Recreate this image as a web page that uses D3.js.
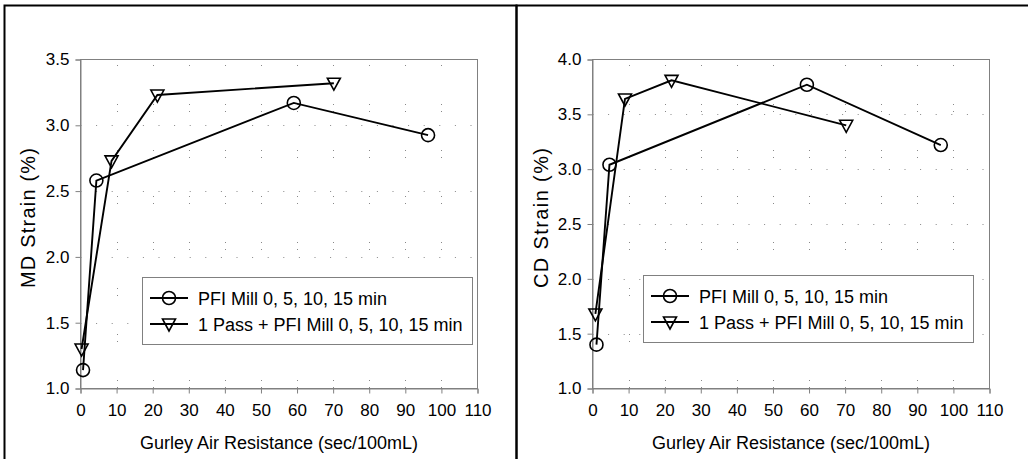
<!DOCTYPE html>
<html>
<head>
<meta charset="utf-8">
<script src="https://cdn.jsdelivr.net/npm/d3@7"></script>
<style>
  body { margin: 0; background: #fff; }
  svg { font-family: "Liberation Sans", Arial, sans-serif; }
</style>
</head>
<body>
<svg width="1028" height="459"></svg>
<script>
// --- data ---
var xTicks = [0, 10, 20, 30, 40, 50, 60, 70, 80, 90, 100, 110];
var legendLabels = ["PFI Mill 0, 5, 10, 15 min", "1 Pass + PFI Mill 0, 5, 10, 15 min"];

// MD strain
var mdPfiX = [0.7, 4.4, 59.1, 96.3];
var mdPfiY = [1.14, 2.58, 3.17, 2.925];
var mdPassX = [0.3, 8.6, 21.3, 70.2];
var mdPassY = [1.30, 2.73, 3.23, 3.32];
var mdTicks = [1.0, 1.5, 2.0, 2.5, 3.0, 3.5];

// CD strain
var cdPfiX = [1.1, 4.7, 59.4, 96.5];
var cdPfiY = [1.40, 3.04, 3.77, 3.22];
var cdPassX = [0.8, 9.0, 21.9, 70.3];
var cdPassY = [1.68, 3.64, 3.81, 3.40];
var cdTicks = [1.0, 1.5, 2.0, 2.5, 3.0, 3.5, 4.0];

var svg = d3.select("svg");

// outer frames round each chart
svg.append("rect").attr("x", 4.5).attr("y", 5.5).attr("width", 512).attr("height", 470)
  .attr("fill", "none").attr("stroke", "#000").attr("stroke-width", 2);
svg.append("rect").attr("x", 516.5).attr("y", 5.5).attr("width", 530).attr("height", 470)
  .attr("fill", "none").attr("stroke", "#000").attr("stroke-width", 2);

function zip(xs, ys) {
  return xs.map(function(x, i) { return [x, ys[i]]; });
}

function triangle(x, y) {
  return "M" + (x - 6.5) + "," + (y - 5) + "L" + (x + 6.5) + "," + (y - 5) + "L" + x + "," + (y + 7) + "Z";
}

function drawPanel(cfg) {
  var x = d3.scaleLinear().domain([0, 110]).range([cfg.left, cfg.right]);
  var y = d3.scaleLinear().domain(d3.extent(cfg.yTicks)).range([388.5, 59.5]);
  var g = svg.append("g");

  // dotted grid
  g.append("g").selectAll("line").data(cfg.yTicks.slice(1, -1)).enter().append("line")
    .attr("x1", cfg.left).attr("x2", cfg.right)
    .attr("y1", function(d) { return Math.round(y(d)) + 0.5; })
    .attr("y2", function(d) { return Math.round(y(d)) + 0.5; })
    .attr("stroke", "#888").attr("stroke-width", 1).attr("stroke-dasharray", "1,14.6");
  g.append("g").selectAll("line").data(xTicks.slice(1, -1)).enter().append("line")
    .attr("y1", 388).attr("y2", 59.5)
    .attr("x1", function(d) { return Math.round(x(d)) + 0.5; })
    .attr("x2", function(d) { return Math.round(x(d)) + 0.5; })
    .attr("stroke", "#888").attr("stroke-width", 1).attr("stroke-dasharray", "1,6,1,38");

  // plot area border
  g.append("rect").attr("x", cfg.left).attr("y", 59.5)
    .attr("width", cfg.right - cfg.left).attr("height", 329)
    .attr("fill", "none").attr("stroke", "#808080").attr("stroke-width", 1);

  var xAxis = g.append("g").attr("transform", "translate(0,388.5)")
    .call(d3.axisBottom(x).tickValues(xTicks).tickSize(5).tickPadding(10).tickFormat(d3.format("d")));
  var yAxis = g.append("g").attr("transform", "translate(" + cfg.left + ",0)")
    .call(d3.axisLeft(y).tickValues(cfg.yTicks).tickSize(5).tickPadding(6).tickFormat(d3.format(".1f")));
  [xAxis, yAxis].forEach(function(a) {
    a.select(".domain").attr("stroke", "#808080");
    a.selectAll(".tick line").attr("stroke", "#808080");
    a.selectAll(".tick text").attr("fill", "#000").style("font-size", "17px")
      .style("font-family", "'Liberation Sans', Arial, sans-serif");
  });

  // axis titles
  g.append("text").attr("x", (cfg.left + cfg.right) / 2).attr("y", 449)
    .attr("text-anchor", "middle").style("font-size", "18px")
    .text("Gurley Air Resistance (sec/100mL)");
  g.append("text")
    .attr("transform", "translate(" + cfg.titleX + "," + 218 + ") rotate(-90)")
    .attr("text-anchor", "middle").style("font-size", "20px")
    .attr("textLength", 140).attr("lengthAdjust", "spacing")
    .text(cfg.yTitle);

  var line = d3.line().x(function(d) { return x(d[0]); }).y(function(d) { return y(d[1]); });
  var pfi = zip(cfg.pfiX, cfg.pfiY);
  var pass = zip(cfg.passX, cfg.passY);

  g.append("path").datum(pass).attr("d", line)
    .attr("fill", "none").attr("stroke", "#000").attr("stroke-width", 1.9);
  g.append("path").datum(pfi).attr("d", line)
    .attr("fill", "none").attr("stroke", "#000").attr("stroke-width", 1.9);

  g.append("g").selectAll("circle").data(pfi).enter().append("circle")
    .attr("cx", function(d) { return x(d[0]); })
    .attr("cy", function(d) { return y(d[1]); })
    .attr("r", 6.5).attr("fill", "none").attr("stroke", "#000").attr("stroke-width", 1.6);
  g.append("g").selectAll("path").data(pass).enter().append("path")
    .attr("d", function(d) { return triangle(x(d[0]), y(d[1])); })
    .attr("fill", "none").attr("stroke", "#000").attr("stroke-width", 1.6);

  // legend
  var lg = g.append("g").attr("transform", "translate(" + cfg.legX + "," + cfg.legY + ")");
  lg.append("rect").attr("x", 0.5).attr("y", 0.5).attr("width", 330).attr("height", 67)
    .attr("fill", "#fff").attr("stroke", "#808080").attr("stroke-width", 1);
  legendLabels.forEach(function(lab, i) {
    var ry = 21 + i * 26;
    lg.append("line").attr("x1", 8).attr("x2", 46).attr("y1", ry).attr("y2", ry)
      .attr("stroke", "#000").attr("stroke-width", 1.9);
    if (i === 0) {
      lg.append("circle").attr("cx", 27).attr("cy", ry).attr("r", 6.5)
        .attr("fill", "none").attr("stroke", "#000").attr("stroke-width", 1.6);
    } else {
      lg.append("path").attr("d", triangle(27, ry)).attr("fill", "none")
        .attr("stroke", "#000").attr("stroke-width", 1.6);
    }
    lg.append("text").attr("x", 56).attr("y", ry + 6.5).style("font-size", "18px").text(lab);
  });
}

drawPanel({
  left: 80.5, right: 477.5, titleX: 35, yTitle: "MD Strain (%)", yTicks: mdTicks,
  pfiX: mdPfiX, pfiY: mdPfiY, passX: mdPassX, passY: mdPassY, legX: 142, legY: 277
});
drawPanel({
  left: 592.5, right: 989.5, titleX: 548, yTitle: "CD Strain (%)", yTicks: cdTicks,
  pfiX: cdPfiX, pfiY: cdPfiY, passX: cdPassX, passY: cdPassY, legX: 643, legY: 275
});
</script>
</body>
</html>
